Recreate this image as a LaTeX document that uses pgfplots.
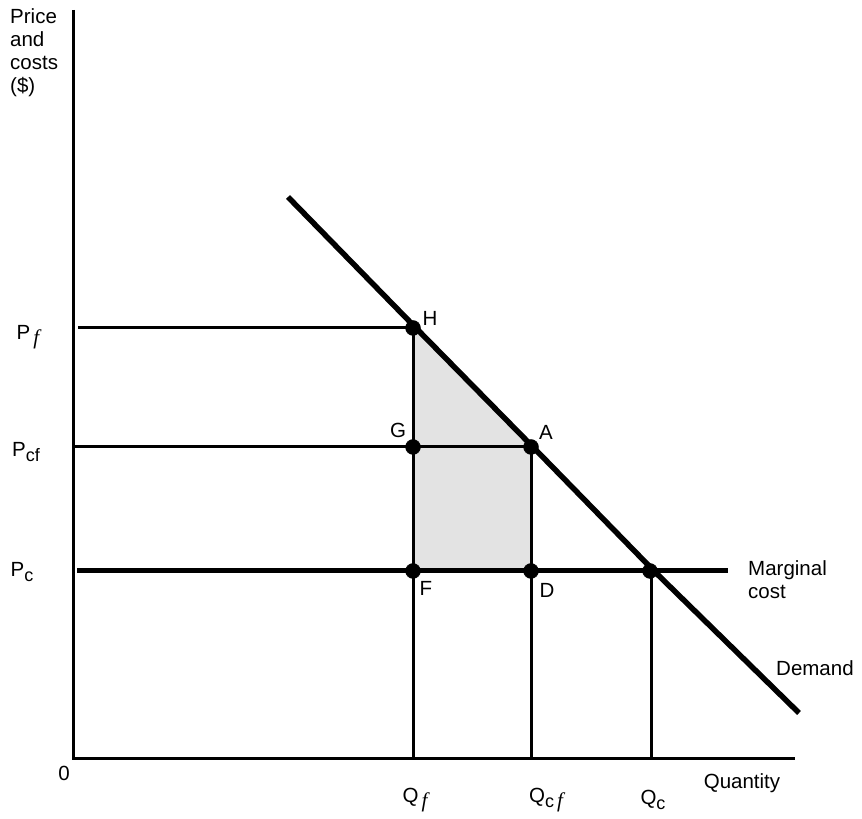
\documentclass[border=0pt]{standalone}
\usepackage{pgfplots}
\pgfplotsset{compat=1.18}
\usepackage{fontspec}
\setmainfont{Liberation Sans}
\newfontfamily\serif{Liberation Serif}
\newcommand{\lf}{\fontsize{20.5}{23}\selectfont}
\newcommand{\itf}{\,{\serif\itshape\fontsize{21}{21}\selectfont f}}
\newcommand{\sub}[1]{\raisebox{-0.45ex}{\fontsize{18}{18}\selectfont #1}}
\begin{document}
\lf
\begin{tikzpicture}[font=\lf]
\begin{axis}[
  x=1pt, y=1pt,
  xmin=0, xmax=862, ymin=0, ymax=818,
  hide axis, clip=false,
]
% bounding box
\path (axis cs:0,0) rectangle (axis cs:862,818);
% shaded area H-A-D-F
\addplot[fill={rgb,255:red,227;green,227;blue,227}, draw=none] coordinates {(413,490) (531,371) (531,247) (413,247)} -- cycle;
% axes
\addplot[black, line width=3pt] coordinates {(73,808) (73,59) (795,59)};
% horizontal lines
\addplot[black, line width=3pt] coordinates {(78,490) (413,490)};
\addplot[black, line width=3pt] coordinates {(74,371) (531,371)};
\addplot[black, line width=5pt] coordinates {(77,247) (728,247)};
% vertical lines
\addplot[black, line width=3pt] coordinates {(413,490) (413,59)};
\addplot[black, line width=3pt] coordinates {(531,371) (531,59)};
\addplot[black, line width=3pt] coordinates {(651,247) (651,59)};
% demand
\addplot[black, line width=5.5pt] coordinates {(288,621) (413,493) (531,373) (653,248) (799,105)};
% dots
\addplot[only marks, mark=*, mark size=7.5pt, black] coordinates {(413,490) (413,371) (531,371) (413,247) (531,247) (650,247)};
% labels
\node[font=\lf, anchor=north west, align=left, inner sep=0pt] at (axis cs:10,810) {Price\\and\\costs\\(\$)};
\node[font=\lf] at (axis cs:28,481) {P\sub{\itf}};
\node[font=\lf] at (axis cs:26,366) {P\sub{cf}};
\node[font=\lf] at (axis cs:22,246) {P\sub{c}};
\node[font=\lf] at (axis cs:430,500) {H};
\node[font=\lf] at (axis cs:398,388) {G};
\node[font=\lf] at (axis cs:546,386) {A};
\node[font=\lf] at (axis cs:426,230) {F};
\node[font=\lf] at (axis cs:547,228) {D};
\node[font=\lf, anchor=west, align=left, inner sep=0pt] at (axis cs:748,238) {Marginal\\cost};
\node[font=\lf, anchor=west, inner sep=0pt] at (axis cs:776,150) {Demand};
\node[font=\lf] at (axis cs:64,45) {0};
\node[font=\lf] at (axis cs:742,35) {Quantity};
\node[font=\lf] at (axis cs:415,18) {Q\sub{\itf}};
\node[font=\lf] at (axis cs:546,18) {Q\sub{c\itf}};
\node[font=\lf] at (axis cs:653,18) {Q\sub{c}};
\end{axis}
\end{tikzpicture}
\end{document}
